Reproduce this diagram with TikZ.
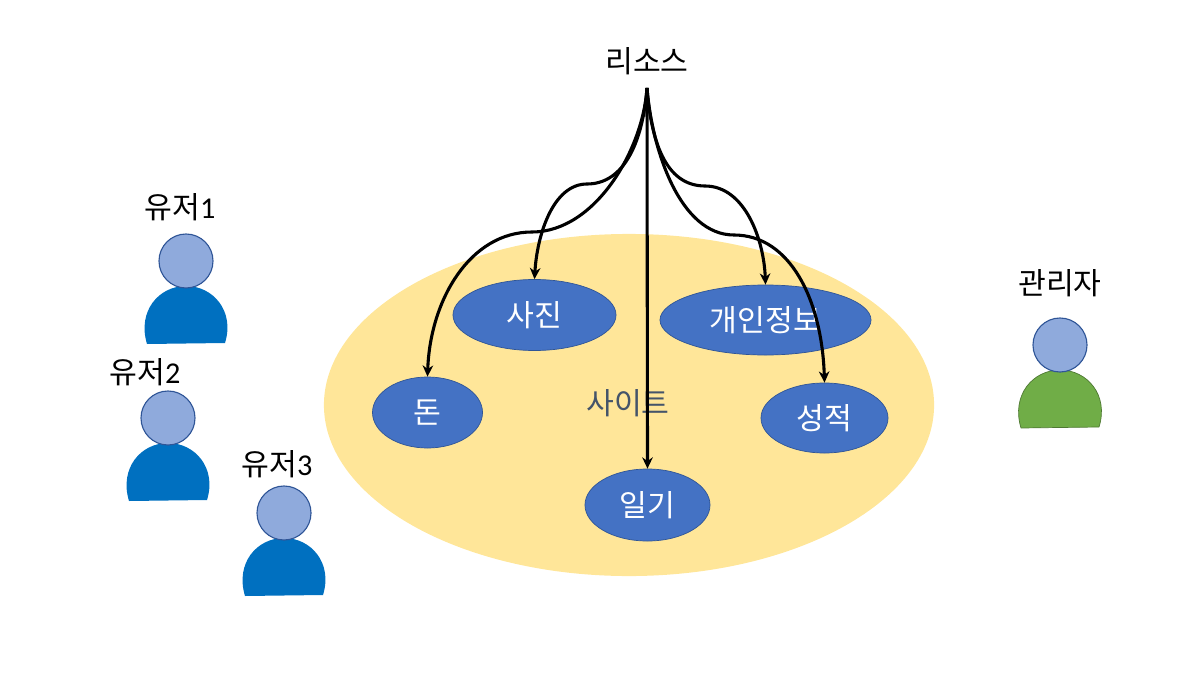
\documentclass[tikz,border=0pt]{standalone}
\usepackage{fontspec}
\setmainfont{Noto Sans CJK KR}
\newfontfamily\digitfont{Carlito}
\usetikzlibrary{shapes.geometric,arrows.meta}

\definecolor{sitefill}{HTML}{FFE699}
\definecolor{topicfill}{HTML}{4472C4}
\definecolor{headfill}{HTML}{8FAADC}
\definecolor{userfill}{HTML}{0070C0}
\definecolor{adminfill}{HTML}{70AD47}
\definecolor{outline}{HTML}{2F5597}
\definecolor{sitetext}{HTML}{44546A}

\tikzset{
  label text/.style={font=\fontsize{21.5}{25}\selectfont,inner sep=0pt,text=black},
  topic/.style={ellipse,draw=outline,line width=0.5pt,fill=topicfill,inner sep=0pt,
    font=\fontsize{21.5}{25}\selectfont,text=white},
  head/.style={circle,draw=outline,line width=0.8pt,fill=headfill,inner sep=0pt,minimum size=1.35cm},
  link/.style={draw,line width=2.2pt,-{Stealth[length=8pt,width=7.5pt]}},
}

\begin{document}
\begin{tikzpicture}[x=0.025cm,y=-0.025cm,line join=round]
\useasboundingbox (0,0) rectangle (1196,676);

% site
\node[ellipse,fill=sitefill,inner sep=0pt,minimum width=15.25cm,minimum height=8.55cm] (site) at (629,405) {};
\node[label text,text=sitetext] (sitename) at (628,403) {사이트};

% resources
\node[topic,minimum width=4.075cm,minimum height=1.775cm] (photo) at (534.5,315) {사진};
\node[topic,minimum width=5.275cm,minimum height=1.75cm] (private) at (765.5,320) {개인정보};
\node[topic,minimum width=2.75cm,minimum height=1.775cm] (money) at (427.5,412.5) {돈};
\node[topic,minimum width=3.175cm,minimum height=1.75cm] (grade) at (824.5,418) {성적};
\node[topic,minimum width=3.125cm,minimum height=1.8cm] (diary) at (647.5,505) {일기};

% users
\foreach \uname/\ux/\uy/\lx/\ly/\unum in {a/186/261/180/207/1,b/168/418/145/372/2,c/284/513/277/464/3}{
  \fill[userfill,shift={(\ux,\uy)}] (-39,83) .. controls (-49,50) and (-27,25) .. (0,25)
    .. controls (27,25) and (49,50) .. (39,82) -- cycle;
  \node[head] (head\uname) at (\ux,\uy) {};
  \node[label text] (user\uname) at (\lx,\ly) {유저{\digitfont\unum}};
}

% admin
\draw[adminfill!70!black,fill=adminfill,line width=0.5pt,shift={(1060,345)}] (-39,83) .. controls (-49,50) and (-27,25) .. (0,25)
  .. controls (27,25) and (49,50) .. (39,82) -- cycle;
\node[head] (headadmin) at (1060,345) {};
\node[label text] (admin) at (1060,283) {관리자};

% links
\node[label text] (resource) at (647,61) {리소스};
\coordinate (fork) at (647,88);
\draw[link] (fork) -- (diary.north);
\draw[link] (fork) .. controls (643,140) and (625,184) .. (587,184) .. controls (553,184) and (537,235) .. (photo.north);
\draw[link] (fork) .. controls (643,150) and (595,232) .. (532,232) .. controls (470,232) and (430,300) .. (money.north);
\draw[link] (fork) .. controls (651,140) and (665,186) .. (705,186) .. controls (745,186) and (764,240) .. (private.north);
\draw[link] (fork) .. controls (652,150) and (680,235) .. (734,235) .. controls (790,235) and (822,300) .. (grade.north);

\end{tikzpicture}
\end{document}
